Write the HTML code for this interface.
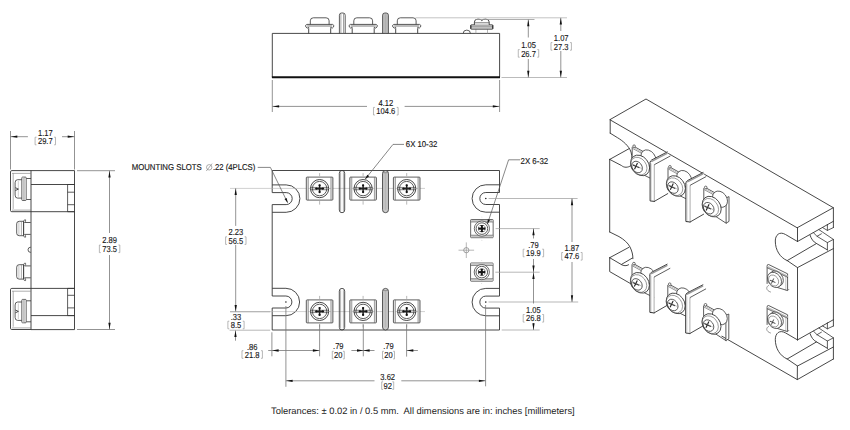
<!DOCTYPE html>
<html><head><meta charset="utf-8"><style>
html,body{margin:0;padding:0;background:#fff;}
svg{display:block;font-family:"Liberation Sans",sans-serif;text-rendering:geometricPrecision;}
</style></head><body>
<svg width="850" height="430" viewBox="0 0 850 430">
<rect width="850" height="430" fill="#fff"/>
<path d="M272.3,77.2 L272.3,33.4 L499.6,33.4 L499.6,77.2" stroke="#333" stroke-width="0.9" fill="none"/>
<line x1="271.90" y1="77.20" x2="500.00" y2="77.20" stroke="#111" stroke-width="2.0"/>
<line x1="308.70" y1="28.60" x2="308.70" y2="33.40" stroke="#333" stroke-width="0.9"/>
<line x1="330.70" y1="28.60" x2="330.70" y2="33.40" stroke="#333" stroke-width="0.9"/>
<rect x="307.20" y="24.6" width="25" height="2.4" fill="#bdbdbd"/>
<path d="M306.90,24.4 L332.50,24.4" stroke="#333" stroke-width="0.8" fill="none"/>
<path d="M308.70,28.6 L308.70,27.4 A1.8,1.8 0 1 1 306.90,24.4" stroke="#333" stroke-width="0.8" fill="none"/>
<path d="M330.70,28.6 L330.70,27.4 A1.8,1.8 0 1 0 332.50,24.4" stroke="#333" stroke-width="0.8" fill="none"/>
<path d="M310.30,24.4 L310.30,20.8 Q310.30,17.8 313.30,17.8 L326.10,17.8 Q329.10,17.8 329.10,20.8 L329.10,24.4" stroke="#333" stroke-width="0.8" fill="none"/>
<line x1="352.20" y1="28.60" x2="352.20" y2="33.40" stroke="#333" stroke-width="0.9"/>
<line x1="374.20" y1="28.60" x2="374.20" y2="33.40" stroke="#333" stroke-width="0.9"/>
<rect x="350.70" y="24.6" width="25" height="2.4" fill="#bdbdbd"/>
<path d="M350.40,24.4 L376.00,24.4" stroke="#333" stroke-width="0.8" fill="none"/>
<path d="M352.20,28.6 L352.20,27.4 A1.8,1.8 0 1 1 350.40,24.4" stroke="#333" stroke-width="0.8" fill="none"/>
<path d="M374.20,28.6 L374.20,27.4 A1.8,1.8 0 1 0 376.00,24.4" stroke="#333" stroke-width="0.8" fill="none"/>
<path d="M353.80,24.4 L353.80,20.8 Q353.80,17.8 356.80,17.8 L369.60,17.8 Q372.60,17.8 372.60,20.8 L372.60,24.4" stroke="#333" stroke-width="0.8" fill="none"/>
<line x1="395.70" y1="28.60" x2="395.70" y2="33.40" stroke="#333" stroke-width="0.9"/>
<line x1="417.70" y1="28.60" x2="417.70" y2="33.40" stroke="#333" stroke-width="0.9"/>
<rect x="394.20" y="24.6" width="25" height="2.4" fill="#bdbdbd"/>
<path d="M393.90,24.4 L419.50,24.4" stroke="#333" stroke-width="0.8" fill="none"/>
<path d="M395.70,28.6 L395.70,27.4 A1.8,1.8 0 1 1 393.90,24.4" stroke="#333" stroke-width="0.8" fill="none"/>
<path d="M417.70,28.6 L417.70,27.4 A1.8,1.8 0 1 0 419.50,24.4" stroke="#333" stroke-width="0.8" fill="none"/>
<path d="M397.30,24.4 L397.30,20.8 Q397.30,17.8 400.30,17.8 L413.10,17.8 Q416.10,17.8 416.10,20.8 L416.10,24.4" stroke="#333" stroke-width="0.8" fill="none"/>
<path d="M339.4,33.4 L339.4,15.2 Q339.4,13.0 341.59999999999997,13.0 L343.0,13.0 Q345.2,13.0 345.2,15.2 L345.2,33.4" stroke="#333" stroke-width="0.8" fill="none"/>
<line x1="340.90" y1="13.80" x2="340.90" y2="33.40" stroke="#666" stroke-width="0.6"/>
<line x1="343.50" y1="13.80" x2="343.50" y2="33.40" stroke="#666" stroke-width="0.6"/>
<path d="M382.6,33.4 L382.6,15.2 Q382.6,13.0 384.8,13.0 L386.2,13.0 Q388.4,13.0 388.4,15.2 L388.4,33.4 Z" fill="#c8c8c8" stroke="#333" stroke-width="0.8"/>
<line x1="384.10" y1="14.20" x2="384.10" y2="33.40" stroke="#999" stroke-width="0.5"/>
<line x1="385.50" y1="14.20" x2="385.50" y2="33.40" stroke="#999" stroke-width="0.5"/>
<line x1="386.90" y1="14.20" x2="386.90" y2="33.40" stroke="#999" stroke-width="0.5"/>
<path d="M463.2,33.4 A3.6,3.3 0 0 1 470.4,33.4" stroke="#333" stroke-width="0.8" fill="none"/>
<line x1="475.90" y1="29.20" x2="475.90" y2="33.40" stroke="#999" stroke-width="0.7"/>
<line x1="487.50" y1="29.20" x2="487.50" y2="33.40" stroke="#999" stroke-width="0.7"/>
<rect x="470.70" y="24.8" width="22.2" height="4.4" rx="0.7" fill="#d4d4d4" stroke="#333" stroke-width="0.8"/>
<line x1="470.80" y1="26.80" x2="492.80" y2="26.80" stroke="#666" stroke-width="0.6"/>
<line x1="470.90" y1="25.20" x2="470.90" y2="28.80" stroke="#222" stroke-width="0.9"/>
<line x1="492.70" y1="25.20" x2="492.70" y2="28.80" stroke="#222" stroke-width="0.9"/>
<rect x="474.60" y="22.6" width="14.4" height="2.2" fill="#e2e2e2"/>
<path d="M474.40,24.8 L474.40,22 Q474.40,19.1 478.00,19.1 Q480.90,19.1 481.80,20.6 Q482.70,19.1 485.60,19.1 Q489.20,19.1 489.20,22 L489.20,24.8" stroke="#333" stroke-width="0.9" fill="none"/>
<line x1="474.60" y1="22.60" x2="489.00" y2="22.60" stroke="#555" stroke-width="0.6"/>
<line x1="415.50" y1="17.80" x2="567.00" y2="17.80" stroke="#b4b4b4" stroke-width="0.8"/>
<line x1="475.00" y1="19.50" x2="534.50" y2="19.50" stroke="#999" stroke-width="0.8"/>
<line x1="501.50" y1="77.50" x2="567.00" y2="77.50" stroke="#aaa" stroke-width="0.8"/>
<line x1="528.30" y1="19.50" x2="528.30" y2="37.50" stroke="#777" stroke-width="0.8"/>
<line x1="528.30" y1="59.00" x2="528.30" y2="77.50" stroke="#777" stroke-width="0.8"/>
<path d="M528.30,19.70 L529.45,26.20 L527.15,26.20 Z" fill="#111"/>
<path d="M528.30,77.30 L527.15,70.80 L529.45,70.80 Z" fill="#111"/>
<text transform="translate(528.50,47.53) scale(0.87,1)" font-size="8.7" text-anchor="middle" fill="#151515" stroke="#151515" stroke-width="0.12">1.05</text>
<text transform="translate(528.50,56.53) scale(0.87,1)" font-size="8.7" text-anchor="middle" fill="#151515" stroke="#151515" stroke-width="0.12">26.7</text>
<path d="M519.68,49.60 L518.28,49.60 L518.28,57.20 L519.68,57.20" stroke="#9a9a9a" stroke-width="0.7" fill="none"/>
<path d="M537.32,49.60 L538.72,49.60 L538.72,57.20 L537.32,57.20" stroke="#9a9a9a" stroke-width="0.7" fill="none"/>
<line x1="560.80" y1="17.80" x2="560.80" y2="31.00" stroke="#777" stroke-width="0.8"/>
<line x1="560.80" y1="51.00" x2="560.80" y2="77.50" stroke="#777" stroke-width="0.8"/>
<path d="M560.80,18.00 L561.95,24.50 L559.65,24.50 Z" fill="#111"/>
<path d="M560.80,77.30 L559.65,70.80 L561.95,70.80 Z" fill="#111"/>
<text transform="translate(561.20,40.53) scale(0.87,1)" font-size="8.7" text-anchor="middle" fill="#151515" stroke="#151515" stroke-width="0.12">1.07</text>
<text transform="translate(561.20,49.53) scale(0.87,1)" font-size="8.7" text-anchor="middle" fill="#151515" stroke="#151515" stroke-width="0.12">27.3</text>
<path d="M552.38,42.60 L550.98,42.60 L550.98,50.20 L552.38,50.20" stroke="#9a9a9a" stroke-width="0.7" fill="none"/>
<path d="M570.02,42.60 L571.42,42.60 L571.42,50.20 L570.02,50.20" stroke="#9a9a9a" stroke-width="0.7" fill="none"/>
<line x1="272.30" y1="80.00" x2="272.30" y2="112.00" stroke="#777" stroke-width="0.8"/>
<line x1="499.60" y1="80.00" x2="499.60" y2="112.00" stroke="#777" stroke-width="0.8"/>
<line x1="272.30" y1="106.40" x2="367.00" y2="106.40" stroke="#777" stroke-width="0.8"/>
<line x1="404.60" y1="106.40" x2="499.60" y2="106.40" stroke="#777" stroke-width="0.8"/>
<path d="M272.60,106.40 L279.10,105.25 L279.10,107.55 Z" fill="#111"/>
<path d="M499.30,106.40 L492.80,107.55 L492.80,105.25 Z" fill="#111"/>
<text transform="translate(385.80,106.13) scale(0.87,1)" font-size="8.7" text-anchor="middle" fill="#151515" stroke="#151515" stroke-width="0.12">4.12</text>
<text transform="translate(385.80,114.33) scale(0.87,1)" font-size="8.7" text-anchor="middle" fill="#151515" stroke="#151515" stroke-width="0.12">104.6</text>
<path d="M374.88,107.40 L373.48,107.40 L373.48,115.00 L374.88,115.00" stroke="#9a9a9a" stroke-width="0.7" fill="none"/>
<path d="M396.72,107.40 L398.12,107.40 L398.12,115.00 L396.72,115.00" stroke="#9a9a9a" stroke-width="0.7" fill="none"/>
<line x1="10.50" y1="131.00" x2="10.50" y2="169.50" stroke="#777" stroke-width="0.8"/>
<line x1="74.50" y1="131.00" x2="74.50" y2="169.50" stroke="#777" stroke-width="0.8"/>
<line x1="10.50" y1="136.70" x2="27.90" y2="136.70" stroke="#777" stroke-width="0.8"/>
<line x1="62.00" y1="136.70" x2="74.50" y2="136.70" stroke="#777" stroke-width="0.8"/>
<path d="M10.80,136.70 L17.30,135.55 L17.30,137.85 Z" fill="#111"/>
<path d="M74.20,136.70 L67.70,137.85 L67.70,135.55 Z" fill="#111"/>
<text transform="translate(45.30,135.53) scale(0.87,1)" font-size="8.7" text-anchor="middle" fill="#151515" stroke="#151515" stroke-width="0.12">1.17</text>
<text transform="translate(45.30,144.13) scale(0.87,1)" font-size="8.7" text-anchor="middle" fill="#151515" stroke="#151515" stroke-width="0.12">29.7</text>
<path d="M36.48,137.20 L35.08,137.20 L35.08,144.80 L36.48,144.80" stroke="#9a9a9a" stroke-width="0.7" fill="none"/>
<path d="M54.12,137.20 L55.52,137.20 L55.52,144.80 L54.12,144.80" stroke="#9a9a9a" stroke-width="0.7" fill="none"/>
<path d="M31,170.6 L74.5,170.6 L74.5,329.6 L31,329.6 Z" stroke="#333" stroke-width="0.9" fill="none"/>
<line x1="31.00" y1="184.50" x2="74.50" y2="184.50" stroke="#333" stroke-width="0.9"/>
<line x1="31.00" y1="315.60" x2="74.50" y2="315.60" stroke="#333" stroke-width="0.9"/>
<line x1="31.00" y1="211.70" x2="74.50" y2="211.70" stroke="#333" stroke-width="0.9"/>
<line x1="31.00" y1="288.40" x2="74.50" y2="288.40" stroke="#333" stroke-width="0.9"/>
<path d="M74.5,184.5 L67.6,184.5 L67.6,211.7 L74.5,211.7" stroke="#333" stroke-width="0.8" fill="none"/>
<line x1="67.60" y1="192.20" x2="74.50" y2="192.20" stroke="#333" stroke-width="0.8"/>
<line x1="67.60" y1="204.70" x2="74.50" y2="204.70" stroke="#333" stroke-width="0.8"/>
<path d="M74.5,288.4 L67.6,288.4 L67.6,315.6 L74.5,315.6" stroke="#333" stroke-width="0.8" fill="none"/>
<line x1="67.60" y1="295.30" x2="74.50" y2="295.30" stroke="#333" stroke-width="0.8"/>
<line x1="67.60" y1="307.90" x2="74.50" y2="307.90" stroke="#333" stroke-width="0.8"/>
<path d="M31,170.6 L11.8,170.6 Q10.5,170.6 10.5,171.9 L10.5,210.39999999999998 Q10.5,211.7 11.8,211.7 L31,211.7" stroke="#333" stroke-width="0.9" fill="none"/>
<line x1="13.20" y1="173.40" x2="13.20" y2="208.90" stroke="#777" stroke-width="0.6"/>
<line x1="12.00" y1="173.40" x2="31.00" y2="173.40" stroke="#777" stroke-width="0.6"/>
<line x1="12.00" y1="210.10" x2="31.00" y2="210.10" stroke="#777" stroke-width="0.6"/>
<path d="M31,288.4 L11.8,288.4 Q10.5,288.4 10.5,289.7 L10.5,328.2 Q10.5,329.5 11.8,329.5 L31,329.5" stroke="#333" stroke-width="0.9" fill="none"/>
<line x1="13.20" y1="291.20" x2="13.20" y2="326.70" stroke="#777" stroke-width="0.6"/>
<line x1="12.00" y1="291.20" x2="31.00" y2="291.20" stroke="#777" stroke-width="0.6"/>
<line x1="12.00" y1="327.90" x2="31.00" y2="327.90" stroke="#777" stroke-width="0.6"/>
<line x1="26.20" y1="178.50" x2="31.00" y2="178.50" stroke="#333" stroke-width="0.8"/>
<line x1="26.20" y1="199.50" x2="31.00" y2="199.50" stroke="#333" stroke-width="0.8"/>
<rect x="21.8" y="177.10" width="4.4" height="23.4" rx="0.8" fill="#fff" stroke="#333" stroke-width="0.75"/>
<rect x="22.3" y="177.60" width="1.6" height="22.4" fill="#c8c8c8"/>
<line x1="24.30" y1="177.30" x2="24.30" y2="200.30" stroke="#777" stroke-width="0.5"/>
<path d="M21.8,179.70 L17.6,179.70 Q15.1,179.70 15.1,182.70 L15.1,195.10 Q15.1,198.10 17.6,198.10 L21.8,198.10" stroke="#333" stroke-width="0.8" fill="none"/>
<line x1="18.30" y1="181.10" x2="18.30" y2="196.70" stroke="#999" stroke-width="0.5"/>
<path d="M15.4,187.70 L18.4,189.10 L15.4,190.50" stroke="#222" stroke-width="0.8" fill="none"/>
<line x1="26.20" y1="300.80" x2="31.00" y2="300.80" stroke="#333" stroke-width="0.8"/>
<line x1="26.20" y1="321.80" x2="31.00" y2="321.80" stroke="#333" stroke-width="0.8"/>
<rect x="21.8" y="299.40" width="4.4" height="23.4" rx="0.8" fill="#fff" stroke="#333" stroke-width="0.75"/>
<rect x="22.3" y="299.90" width="1.6" height="22.4" fill="#c8c8c8"/>
<line x1="24.30" y1="299.60" x2="24.30" y2="322.60" stroke="#777" stroke-width="0.5"/>
<path d="M21.8,302.00 L17.6,302.00 Q15.1,302.00 15.1,305.00 L15.1,317.40 Q15.1,320.40 17.6,320.40 L21.8,320.40" stroke="#333" stroke-width="0.8" fill="none"/>
<line x1="18.30" y1="303.40" x2="18.30" y2="319.00" stroke="#999" stroke-width="0.5"/>
<path d="M15.4,310.00 L18.4,311.40 L15.4,312.80" stroke="#222" stroke-width="0.8" fill="none"/>
<line x1="24.60" y1="222.50" x2="30.70" y2="222.50" stroke="#333" stroke-width="0.8"/>
<line x1="24.60" y1="234.40" x2="30.70" y2="234.40" stroke="#333" stroke-width="0.8"/>
<path d="M23.6,221.30 L19.2,221.30 Q16.7,221.30 16.7,223.80 L16.7,233.20 Q16.7,235.70 19.2,235.70 L23.6,235.70 Z" stroke="#333" stroke-width="0.8" fill="none"/>
<line x1="18.90" y1="222.10" x2="18.90" y2="234.90" stroke="#888" stroke-width="0.5"/>
<line x1="21.40" y1="221.60" x2="21.40" y2="235.40" stroke="#777" stroke-width="0.6"/>
<line x1="23.60" y1="221.30" x2="23.60" y2="235.70" stroke="#333" stroke-width="0.7"/>
<path d="M23.6,221.30 Q24.2,219.20 25.6,219.80 Q26,221.40 24.6,222.50" stroke="#333" stroke-width="0.7" fill="none"/>
<path d="M23.6,235.70 Q24.2,237.80 25.6,237.20 Q26,235.60 24.6,234.40" stroke="#333" stroke-width="0.7" fill="none"/>
<line x1="24.60" y1="265.90" x2="30.70" y2="265.90" stroke="#333" stroke-width="0.8"/>
<line x1="24.60" y1="277.80" x2="30.70" y2="277.80" stroke="#333" stroke-width="0.8"/>
<path d="M23.6,264.70 L19.2,264.70 Q16.7,264.70 16.7,267.20 L16.7,276.60 Q16.7,279.10 19.2,279.10 L23.6,279.10 Z" stroke="#333" stroke-width="0.8" fill="none"/>
<line x1="18.90" y1="265.50" x2="18.90" y2="278.30" stroke="#888" stroke-width="0.5"/>
<line x1="21.40" y1="265.00" x2="21.40" y2="278.80" stroke="#777" stroke-width="0.6"/>
<line x1="23.60" y1="264.70" x2="23.60" y2="279.10" stroke="#333" stroke-width="0.7"/>
<path d="M23.6,264.70 Q24.2,262.60 25.6,263.20 Q26,264.80 24.6,265.90" stroke="#333" stroke-width="0.7" fill="none"/>
<path d="M23.6,279.10 Q24.2,281.20 25.6,280.60 Q26,279.00 24.6,277.80" stroke="#333" stroke-width="0.7" fill="none"/>
<path d="M30.8,247.2 A2.8,2.6 0 0 0 30.8,252.4" stroke="#333" stroke-width="0.8" fill="none"/>
<line x1="77.00" y1="170.70" x2="115.00" y2="170.70" stroke="#777" stroke-width="0.8"/>
<line x1="77.00" y1="329.50" x2="115.00" y2="329.50" stroke="#777" stroke-width="0.8"/>
<line x1="109.50" y1="170.70" x2="109.50" y2="233.00" stroke="#777" stroke-width="0.8"/>
<line x1="109.50" y1="255.00" x2="109.50" y2="329.50" stroke="#777" stroke-width="0.8"/>
<path d="M109.50,171.00 L110.65,177.50 L108.35,177.50 Z" fill="#111"/>
<path d="M109.50,329.20 L108.35,322.70 L110.65,322.70 Z" fill="#111"/>
<text transform="translate(109.60,242.63) scale(0.87,1)" font-size="8.7" text-anchor="middle" fill="#151515" stroke="#151515" stroke-width="0.12">2.89</text>
<text transform="translate(109.60,251.93) scale(0.87,1)" font-size="8.7" text-anchor="middle" fill="#151515" stroke="#151515" stroke-width="0.12">73.5</text>
<path d="M100.78,245.00 L99.38,245.00 L99.38,252.60 L100.78,252.60" stroke="#9a9a9a" stroke-width="0.7" fill="none"/>
<path d="M118.42,245.00 L119.82,245.00 L119.82,252.60 L118.42,252.60" stroke="#9a9a9a" stroke-width="0.7" fill="none"/>
<line x1="272.20" y1="170.50" x2="499.50" y2="170.50" stroke="#333" stroke-width="0.9"/>
<line x1="272.20" y1="330.00" x2="499.50" y2="330.00" stroke="#333" stroke-width="0.9"/>
<path d="M272.2,184.90 L286.20,184.90 A13.7,13.7 0 0 1 286.20,212.30 L272.2,212.30" stroke="#333" stroke-width="0.9" fill="none"/>
<path d="M272.2,192.60 L286.20,192.60 A6.0,6.0 0 0 1 286.20,204.60 L272.2,204.60" stroke="#333" stroke-width="0.9" fill="none"/>
<path d="M272.2,288.30 L285.90,288.30 A13.7,13.7 0 0 1 285.90,315.70 L272.2,315.70" stroke="#333" stroke-width="0.9" fill="none"/>
<path d="M272.2,296.00 L285.90,296.00 A6.0,6.0 0 0 1 285.90,308.00 L272.2,308.00" stroke="#333" stroke-width="0.9" fill="none"/>
<path d="M499.5,184.80 L485.80,184.80 A13.7,13.7 0 0 0 485.80,212.20 L499.5,212.20" stroke="#333" stroke-width="0.9" fill="none"/>
<path d="M499.5,192.50 L485.80,192.50 A6.0,6.0 0 0 0 485.80,204.50 L499.5,204.50" stroke="#333" stroke-width="0.9" fill="none"/>
<path d="M499.5,288.40 L485.80,288.40 A13.7,13.7 0 0 0 485.80,315.80 L499.5,315.80" stroke="#333" stroke-width="0.9" fill="none"/>
<path d="M499.5,296.10 L485.80,296.10 A6.0,6.0 0 0 0 485.80,308.10 L499.5,308.10" stroke="#333" stroke-width="0.9" fill="none"/>
<line x1="272.20" y1="170.50" x2="272.20" y2="192.60" stroke="#333" stroke-width="0.9"/>
<line x1="272.20" y1="204.60" x2="272.20" y2="296.00" stroke="#333" stroke-width="0.9"/>
<line x1="272.20" y1="308.00" x2="272.20" y2="330.00" stroke="#333" stroke-width="0.9"/>
<line x1="499.50" y1="170.50" x2="499.50" y2="192.50" stroke="#333" stroke-width="0.9"/>
<line x1="499.50" y1="204.50" x2="499.50" y2="296.10" stroke="#333" stroke-width="0.9"/>
<line x1="499.50" y1="308.10" x2="499.50" y2="330.00" stroke="#333" stroke-width="0.9"/>
<circle cx="485.8" cy="198.5" r="0.8" fill="#222"/>
<circle cx="485.8" cy="302.1" r="0.8" fill="#222"/>
<circle cx="285.9" cy="302.0" r="0.8" fill="#222"/>
<line x1="230.00" y1="188.40" x2="425.00" y2="188.40" stroke="#b0b0b0" stroke-width="0.6"/>
<line x1="230.00" y1="311.60" x2="425.00" y2="311.60" stroke="#b0b0b0" stroke-width="0.6"/>
<rect x="306.30" y="177.10" width="2.0" height="23.00" fill="#e0e0e0"/>
<rect x="330.90" y="177.10" width="2.0" height="23.00" fill="#e0e0e0"/>
<rect x="306.30" y="177.10" width="26.60" height="23.00" rx="0.8" fill="none" stroke="#444" stroke-width="0.85"/>
<line x1="308.30" y1="177.10" x2="308.30" y2="200.10" stroke="#666" stroke-width="0.6"/>
<line x1="330.90" y1="177.10" x2="330.90" y2="200.10" stroke="#666" stroke-width="0.6"/>
<rect x="310.20" y="187.45" width="18.80" height="2.3" fill="#d0d0d0"/>
<line x1="310.20" y1="187.45" x2="329.00" y2="187.45" stroke="#555" stroke-width="0.6"/>
<line x1="310.20" y1="189.75" x2="329.00" y2="189.75" stroke="#555" stroke-width="0.6"/>
<circle cx="319.60" cy="188.60" r="9.1" fill="none" stroke="#333" stroke-width="0.9"/>
<circle cx="319.60" cy="188.60" r="7.2" fill="none" stroke="#333" stroke-width="0.8"/>
<line x1="315.70" y1="188.60" x2="323.50" y2="188.60" stroke="#222" stroke-width="1.5"/>
<line x1="319.60" y1="184.70" x2="319.60" y2="192.50" stroke="#222" stroke-width="1.5"/>
<circle cx="322.90" cy="188.60" r="1.15" fill="#111"/>
<circle cx="316.30" cy="188.60" r="1.15" fill="#111"/>
<circle cx="319.60" cy="192.10" r="1.15" fill="#111"/>
<circle cx="319.60" cy="185.30" r="1.15" fill="#111"/>
<line x1="319.60" y1="173.10" x2="319.60" y2="176.10" stroke="#888" stroke-width="0.6"/>
<line x1="319.60" y1="201.10" x2="319.60" y2="204.60" stroke="#888" stroke-width="0.6"/>
<rect x="306.30" y="299.90" width="2.0" height="23.00" fill="#e0e0e0"/>
<rect x="330.90" y="299.90" width="2.0" height="23.00" fill="#e0e0e0"/>
<rect x="306.30" y="299.90" width="26.60" height="23.00" rx="0.8" fill="none" stroke="#444" stroke-width="0.85"/>
<line x1="308.30" y1="299.90" x2="308.30" y2="322.90" stroke="#666" stroke-width="0.6"/>
<line x1="330.90" y1="299.90" x2="330.90" y2="322.90" stroke="#666" stroke-width="0.6"/>
<rect x="310.20" y="310.25" width="18.80" height="2.3" fill="#d0d0d0"/>
<line x1="310.20" y1="310.25" x2="329.00" y2="310.25" stroke="#555" stroke-width="0.6"/>
<line x1="310.20" y1="312.55" x2="329.00" y2="312.55" stroke="#555" stroke-width="0.6"/>
<circle cx="319.60" cy="311.40" r="9.1" fill="none" stroke="#333" stroke-width="0.9"/>
<circle cx="319.60" cy="311.40" r="7.2" fill="none" stroke="#333" stroke-width="0.8"/>
<line x1="315.70" y1="311.40" x2="323.50" y2="311.40" stroke="#222" stroke-width="1.5"/>
<line x1="319.60" y1="307.50" x2="319.60" y2="315.30" stroke="#222" stroke-width="1.5"/>
<circle cx="322.90" cy="311.40" r="1.15" fill="#111"/>
<circle cx="316.30" cy="311.40" r="1.15" fill="#111"/>
<circle cx="319.60" cy="314.90" r="1.15" fill="#111"/>
<circle cx="319.60" cy="308.10" r="1.15" fill="#111"/>
<line x1="319.60" y1="295.90" x2="319.60" y2="298.90" stroke="#888" stroke-width="0.6"/>
<line x1="319.60" y1="323.90" x2="319.60" y2="327.40" stroke="#888" stroke-width="0.6"/>
<rect x="349.80" y="177.10" width="2.0" height="23.00" fill="#e0e0e0"/>
<rect x="374.40" y="177.10" width="2.0" height="23.00" fill="#e0e0e0"/>
<rect x="349.80" y="177.10" width="26.60" height="23.00" rx="0.8" fill="none" stroke="#444" stroke-width="0.85"/>
<line x1="351.80" y1="177.10" x2="351.80" y2="200.10" stroke="#666" stroke-width="0.6"/>
<line x1="374.40" y1="177.10" x2="374.40" y2="200.10" stroke="#666" stroke-width="0.6"/>
<rect x="353.70" y="187.45" width="18.80" height="2.3" fill="#d0d0d0"/>
<line x1="353.70" y1="187.45" x2="372.50" y2="187.45" stroke="#555" stroke-width="0.6"/>
<line x1="353.70" y1="189.75" x2="372.50" y2="189.75" stroke="#555" stroke-width="0.6"/>
<circle cx="363.10" cy="188.60" r="9.1" fill="none" stroke="#333" stroke-width="0.9"/>
<circle cx="363.10" cy="188.60" r="7.2" fill="none" stroke="#333" stroke-width="0.8"/>
<line x1="359.20" y1="188.60" x2="367.00" y2="188.60" stroke="#222" stroke-width="1.5"/>
<line x1="363.10" y1="184.70" x2="363.10" y2="192.50" stroke="#222" stroke-width="1.5"/>
<circle cx="366.40" cy="188.60" r="1.15" fill="#111"/>
<circle cx="359.80" cy="188.60" r="1.15" fill="#111"/>
<circle cx="363.10" cy="192.10" r="1.15" fill="#111"/>
<circle cx="363.10" cy="185.30" r="1.15" fill="#111"/>
<line x1="363.10" y1="173.10" x2="363.10" y2="176.10" stroke="#888" stroke-width="0.6"/>
<line x1="363.10" y1="201.10" x2="363.10" y2="204.60" stroke="#888" stroke-width="0.6"/>
<rect x="349.80" y="299.90" width="2.0" height="23.00" fill="#e0e0e0"/>
<rect x="374.40" y="299.90" width="2.0" height="23.00" fill="#e0e0e0"/>
<rect x="349.80" y="299.90" width="26.60" height="23.00" rx="0.8" fill="none" stroke="#444" stroke-width="0.85"/>
<line x1="351.80" y1="299.90" x2="351.80" y2="322.90" stroke="#666" stroke-width="0.6"/>
<line x1="374.40" y1="299.90" x2="374.40" y2="322.90" stroke="#666" stroke-width="0.6"/>
<rect x="353.70" y="310.25" width="18.80" height="2.3" fill="#d0d0d0"/>
<line x1="353.70" y1="310.25" x2="372.50" y2="310.25" stroke="#555" stroke-width="0.6"/>
<line x1="353.70" y1="312.55" x2="372.50" y2="312.55" stroke="#555" stroke-width="0.6"/>
<circle cx="363.10" cy="311.40" r="9.1" fill="none" stroke="#333" stroke-width="0.9"/>
<circle cx="363.10" cy="311.40" r="7.2" fill="none" stroke="#333" stroke-width="0.8"/>
<line x1="359.20" y1="311.40" x2="367.00" y2="311.40" stroke="#222" stroke-width="1.5"/>
<line x1="363.10" y1="307.50" x2="363.10" y2="315.30" stroke="#222" stroke-width="1.5"/>
<circle cx="366.40" cy="311.40" r="1.15" fill="#111"/>
<circle cx="359.80" cy="311.40" r="1.15" fill="#111"/>
<circle cx="363.10" cy="314.90" r="1.15" fill="#111"/>
<circle cx="363.10" cy="308.10" r="1.15" fill="#111"/>
<line x1="363.10" y1="295.90" x2="363.10" y2="298.90" stroke="#888" stroke-width="0.6"/>
<line x1="363.10" y1="323.90" x2="363.10" y2="327.40" stroke="#888" stroke-width="0.6"/>
<rect x="393.40" y="177.10" width="2.0" height="23.00" fill="#e0e0e0"/>
<rect x="418.00" y="177.10" width="2.0" height="23.00" fill="#e0e0e0"/>
<rect x="393.40" y="177.10" width="26.60" height="23.00" rx="0.8" fill="none" stroke="#444" stroke-width="0.85"/>
<line x1="395.40" y1="177.10" x2="395.40" y2="200.10" stroke="#666" stroke-width="0.6"/>
<line x1="418.00" y1="177.10" x2="418.00" y2="200.10" stroke="#666" stroke-width="0.6"/>
<rect x="397.30" y="187.45" width="18.80" height="2.3" fill="#d0d0d0"/>
<line x1="397.30" y1="187.45" x2="416.10" y2="187.45" stroke="#555" stroke-width="0.6"/>
<line x1="397.30" y1="189.75" x2="416.10" y2="189.75" stroke="#555" stroke-width="0.6"/>
<circle cx="406.70" cy="188.60" r="9.1" fill="none" stroke="#333" stroke-width="0.9"/>
<circle cx="406.70" cy="188.60" r="7.2" fill="none" stroke="#333" stroke-width="0.8"/>
<line x1="402.80" y1="188.60" x2="410.60" y2="188.60" stroke="#222" stroke-width="1.5"/>
<line x1="406.70" y1="184.70" x2="406.70" y2="192.50" stroke="#222" stroke-width="1.5"/>
<circle cx="410.00" cy="188.60" r="1.15" fill="#111"/>
<circle cx="403.40" cy="188.60" r="1.15" fill="#111"/>
<circle cx="406.70" cy="192.10" r="1.15" fill="#111"/>
<circle cx="406.70" cy="185.30" r="1.15" fill="#111"/>
<line x1="406.70" y1="173.10" x2="406.70" y2="176.10" stroke="#888" stroke-width="0.6"/>
<line x1="406.70" y1="201.10" x2="406.70" y2="204.60" stroke="#888" stroke-width="0.6"/>
<rect x="393.40" y="299.90" width="2.0" height="23.00" fill="#e0e0e0"/>
<rect x="418.00" y="299.90" width="2.0" height="23.00" fill="#e0e0e0"/>
<rect x="393.40" y="299.90" width="26.60" height="23.00" rx="0.8" fill="none" stroke="#444" stroke-width="0.85"/>
<line x1="395.40" y1="299.90" x2="395.40" y2="322.90" stroke="#666" stroke-width="0.6"/>
<line x1="418.00" y1="299.90" x2="418.00" y2="322.90" stroke="#666" stroke-width="0.6"/>
<rect x="397.30" y="310.25" width="18.80" height="2.3" fill="#d0d0d0"/>
<line x1="397.30" y1="310.25" x2="416.10" y2="310.25" stroke="#555" stroke-width="0.6"/>
<line x1="397.30" y1="312.55" x2="416.10" y2="312.55" stroke="#555" stroke-width="0.6"/>
<circle cx="406.70" cy="311.40" r="9.1" fill="none" stroke="#333" stroke-width="0.9"/>
<circle cx="406.70" cy="311.40" r="7.2" fill="none" stroke="#333" stroke-width="0.8"/>
<line x1="402.80" y1="311.40" x2="410.60" y2="311.40" stroke="#222" stroke-width="1.5"/>
<line x1="406.70" y1="307.50" x2="406.70" y2="315.30" stroke="#222" stroke-width="1.5"/>
<circle cx="410.00" cy="311.40" r="1.15" fill="#111"/>
<circle cx="403.40" cy="311.40" r="1.15" fill="#111"/>
<circle cx="406.70" cy="314.90" r="1.15" fill="#111"/>
<circle cx="406.70" cy="308.10" r="1.15" fill="#111"/>
<line x1="406.70" y1="295.90" x2="406.70" y2="298.90" stroke="#888" stroke-width="0.6"/>
<line x1="406.70" y1="323.90" x2="406.70" y2="327.40" stroke="#888" stroke-width="0.6"/>
<rect x="470.65" y="219.50" width="22.50" height="18.20" rx="0.6" fill="none" stroke="#444" stroke-width="0.8"/>
<rect x="471.15" y="220.00" width="21.50" height="2.0" fill="#c8c8c8"/>
<rect x="471.15" y="235.20" width="21.50" height="2.0" fill="#c8c8c8"/>
<line x1="470.65" y1="222.00" x2="493.15" y2="222.00" stroke="#555" stroke-width="0.6"/>
<line x1="470.65" y1="235.20" x2="493.15" y2="235.20" stroke="#555" stroke-width="0.6"/>
<circle cx="481.90" cy="228.60" r="7.6" fill="#fff" stroke="#444" stroke-width="0.8"/>
<circle cx="481.90" cy="228.60" r="5.8" fill="none" stroke="#333" stroke-width="0.8"/>
<circle cx="481.90" cy="228.60" r="3.7" fill="#151515"/>
<circle cx="483.80" cy="230.50" r="1.05" fill="#fff"/>
<circle cx="480.00" cy="230.50" r="1.05" fill="#fff"/>
<circle cx="483.80" cy="226.70" r="1.05" fill="#fff"/>
<circle cx="480.00" cy="226.70" r="1.05" fill="#fff"/>
<circle cx="481.90" cy="217.00" r="0.35" fill="#999"/>
<circle cx="481.90" cy="240.20" r="0.35" fill="#999"/>
<rect x="470.55" y="263.00" width="22.50" height="18.20" rx="0.6" fill="none" stroke="#444" stroke-width="0.8"/>
<rect x="471.05" y="263.50" width="21.50" height="2.0" fill="#c8c8c8"/>
<rect x="471.05" y="278.70" width="21.50" height="2.0" fill="#c8c8c8"/>
<line x1="470.55" y1="265.50" x2="493.05" y2="265.50" stroke="#555" stroke-width="0.6"/>
<line x1="470.55" y1="278.70" x2="493.05" y2="278.70" stroke="#555" stroke-width="0.6"/>
<circle cx="481.80" cy="272.10" r="7.6" fill="#fff" stroke="#444" stroke-width="0.8"/>
<circle cx="481.80" cy="272.10" r="5.8" fill="none" stroke="#333" stroke-width="0.8"/>
<circle cx="481.80" cy="272.10" r="3.7" fill="#151515"/>
<circle cx="483.70" cy="274.00" r="1.05" fill="#fff"/>
<circle cx="479.90" cy="274.00" r="1.05" fill="#fff"/>
<circle cx="483.70" cy="270.20" r="1.05" fill="#fff"/>
<circle cx="479.90" cy="270.20" r="1.05" fill="#fff"/>
<circle cx="481.80" cy="260.50" r="0.35" fill="#999"/>
<circle cx="481.80" cy="283.70" r="0.35" fill="#999"/>
<path d="M339.3,173.2 A2.6999999999999886,2.6999999999999886 0 0 1 344.7,173.2 L344.7,210.0 A2.6999999999999886,2.6999999999999886 0 0 1 339.3,210.0 Z" fill="none" stroke="#333" stroke-width="0.85"/>
<line x1="340.60" y1="172.30" x2="340.60" y2="210.90" stroke="#666" stroke-width="0.5"/>
<line x1="343.40" y1="172.30" x2="343.40" y2="210.90" stroke="#666" stroke-width="0.5"/>
<path d="M382.5,173.5 A3.0,3.0 0 0 1 388.5,173.5 L388.5,209.7 A3.0,3.0 0 0 1 382.5,209.7 Z" fill="#cdcdcd" stroke="#333" stroke-width="0.8"/>
<line x1="384.00" y1="173.00" x2="384.00" y2="210.20" stroke="#a0a0a0" stroke-width="0.5"/>
<line x1="385.50" y1="173.00" x2="385.50" y2="210.20" stroke="#a0a0a0" stroke-width="0.5"/>
<line x1="387.00" y1="173.00" x2="387.00" y2="210.20" stroke="#a0a0a0" stroke-width="0.5"/>
<line x1="383.10" y1="172.70" x2="387.90" y2="172.70" stroke="#666" stroke-width="0.6"/>
<path d="M339.3,291.09999999999997 A2.6999999999999886,2.6999999999999886 0 0 1 344.7,291.09999999999997 L344.7,327.3 A2.6999999999999886,2.6999999999999886 0 0 1 339.3,327.3 Z" fill="none" stroke="#333" stroke-width="0.85"/>
<line x1="340.60" y1="290.20" x2="340.60" y2="328.20" stroke="#666" stroke-width="0.5"/>
<line x1="343.40" y1="290.20" x2="343.40" y2="328.20" stroke="#666" stroke-width="0.5"/>
<path d="M382.5,291.4 A3.0,3.0 0 0 1 388.5,291.4 L388.5,327.0 A3.0,3.0 0 0 1 382.5,327.0 Z" fill="#cdcdcd" stroke="#333" stroke-width="0.8"/>
<line x1="384.00" y1="290.90" x2="384.00" y2="327.50" stroke="#a0a0a0" stroke-width="0.5"/>
<line x1="385.50" y1="290.90" x2="385.50" y2="327.50" stroke="#a0a0a0" stroke-width="0.5"/>
<line x1="387.00" y1="290.90" x2="387.00" y2="327.50" stroke="#a0a0a0" stroke-width="0.5"/>
<line x1="383.10" y1="290.60" x2="387.90" y2="290.60" stroke="#666" stroke-width="0.6"/>
<circle cx="466.3" cy="250.2" r="2.6" fill="none" stroke="#666" stroke-width="0.6"/>
<line x1="458.50" y1="250.20" x2="474.10" y2="250.20" stroke="#888" stroke-width="0.6"/>
<line x1="466.30" y1="242.40" x2="466.30" y2="258.00" stroke="#888" stroke-width="0.6"/>
<line x1="257.70" y1="167.40" x2="270.40" y2="167.40" stroke="#555" stroke-width="0.7"/>
<line x1="270.40" y1="167.40" x2="287.60" y2="202.60" stroke="#555" stroke-width="0.7"/>
<path d="M287.80,203.00 L284.53,199.03 L286.68,197.98 Z" fill="#111"/>
<text transform="translate(131.70,170.40) scale(0.915,1)" font-size="8.5" text-anchor="start" fill="#151515" stroke="#151515" stroke-width="0.15">MOUNTING SLOTS</text>
<circle cx="209.2" cy="167.3" r="2.7" fill="none" stroke="#888" stroke-width="0.7"/>
<line x1="206.30" y1="171.00" x2="212.10" y2="163.60" stroke="#888" stroke-width="0.7"/>
<text transform="translate(212.90,170.40) scale(0.905,1)" font-size="8.5" text-anchor="start" fill="#151515" stroke="#151515" stroke-width="0.15">.22 (4PLCS)</text>
<line x1="393.00" y1="144.40" x2="404.00" y2="144.40" stroke="#555" stroke-width="0.7"/>
<line x1="393.00" y1="144.40" x2="365.40" y2="178.90" stroke="#555" stroke-width="0.7"/>
<path d="M365.10,179.30 L367.28,174.65 L369.16,176.14 Z" fill="#111"/>
<text transform="translate(405.80,147.40) scale(0.915,1)" font-size="8.5" text-anchor="start" fill="#151515" stroke="#151515" stroke-width="0.15">6X 10-32</text>
<line x1="508.60" y1="159.80" x2="520.00" y2="159.80" stroke="#555" stroke-width="0.7"/>
<line x1="508.60" y1="159.80" x2="487.50" y2="223.80" stroke="#555" stroke-width="0.7"/>
<path d="M487.30,224.40 L487.82,219.31 L489.91,220.00 Z" fill="#111"/>
<text transform="translate(520.50,163.50) scale(0.93,1)" font-size="8.5" text-anchor="start" fill="#151515" stroke="#151515" stroke-width="0.15">2X 6-32</text>
<line x1="230.00" y1="311.80" x2="270.20" y2="311.80" stroke="#999" stroke-width="0.7"/>
<line x1="229.60" y1="330.20" x2="270.20" y2="330.20" stroke="#999" stroke-width="0.7"/>
<line x1="235.70" y1="188.30" x2="235.70" y2="225.90" stroke="#777" stroke-width="0.8"/>
<line x1="235.70" y1="245.00" x2="235.70" y2="311.60" stroke="#777" stroke-width="0.8"/>
<path d="M235.70,188.60 L236.85,195.10 L234.55,195.10 Z" fill="#111"/>
<path d="M235.70,311.50 L234.55,305.00 L236.85,305.00 Z" fill="#111"/>
<text transform="translate(235.80,235.13) scale(0.87,1)" font-size="8.7" text-anchor="middle" fill="#151515" stroke="#151515" stroke-width="0.12">2.23</text>
<text transform="translate(235.80,243.73) scale(0.87,1)" font-size="8.7" text-anchor="middle" fill="#151515" stroke="#151515" stroke-width="0.12">56.5</text>
<path d="M226.98,236.80 L225.58,236.80 L225.58,244.40 L226.98,244.40" stroke="#9a9a9a" stroke-width="0.7" fill="none"/>
<path d="M244.62,236.80 L246.02,236.80 L246.02,244.40 L244.62,244.40" stroke="#9a9a9a" stroke-width="0.7" fill="none"/>
<line x1="235.50" y1="330.50" x2="235.50" y2="340.70" stroke="#777" stroke-width="0.8"/>
<path d="M235.50,330.40 L236.65,336.90 L234.35,336.90 Z" fill="#111"/>
<text transform="translate(236.00,319.73) scale(0.87,1)" font-size="8.7" text-anchor="middle" fill="#151515" stroke="#151515" stroke-width="0.12">.33</text>
<text transform="translate(236.00,328.13) scale(0.87,1)" font-size="8.7" text-anchor="middle" fill="#151515" stroke="#151515" stroke-width="0.12">8.5</text>
<path d="M229.29,321.20 L227.89,321.20 L227.89,328.80 L229.29,328.80" stroke="#9a9a9a" stroke-width="0.7" fill="none"/>
<path d="M242.71,321.20 L244.11,321.20 L244.11,328.80 L242.71,328.80" stroke="#9a9a9a" stroke-width="0.7" fill="none"/>
<text transform="translate(252.20,349.63) scale(0.87,1)" font-size="8.7" text-anchor="middle" fill="#151515" stroke="#151515" stroke-width="0.12">.86</text>
<text transform="translate(252.20,357.63) scale(0.87,1)" font-size="8.7" text-anchor="middle" fill="#151515" stroke="#151515" stroke-width="0.12">21.8</text>
<path d="M243.38,350.70 L241.98,350.70 L241.98,358.30 L243.38,358.30" stroke="#9a9a9a" stroke-width="0.7" fill="none"/>
<path d="M261.02,350.70 L262.42,350.70 L262.42,358.30 L261.02,358.30" stroke="#9a9a9a" stroke-width="0.7" fill="none"/>
<line x1="271.90" y1="332.30" x2="271.90" y2="356.30" stroke="#777" stroke-width="0.8"/>
<line x1="285.90" y1="306.00" x2="285.90" y2="386.80" stroke="#777" stroke-width="0.8"/>
<line x1="319.60" y1="324.50" x2="319.60" y2="356.30" stroke="#777" stroke-width="0.8"/>
<line x1="363.30" y1="324.50" x2="363.30" y2="356.30" stroke="#777" stroke-width="0.8"/>
<line x1="406.60" y1="324.50" x2="406.60" y2="356.60" stroke="#777" stroke-width="0.8"/>
<line x1="268.20" y1="350.50" x2="319.60" y2="350.50" stroke="#777" stroke-width="0.8"/>
<path d="M272.10,350.50 L278.60,349.35 L278.60,351.65 Z" fill="#111"/>
<path d="M319.40,350.50 L312.90,351.65 L312.90,349.35 Z" fill="#111"/>
<line x1="351.40" y1="350.50" x2="374.50" y2="350.50" stroke="#777" stroke-width="0.8"/>
<path d="M363.10,350.50 L369.60,349.35 L369.60,351.65 Z" fill="#111"/>
<path d="M363.50,350.50 L357.00,351.65 L357.00,349.35 Z" fill="#111"/>
<line x1="406.60" y1="350.50" x2="417.90" y2="350.50" stroke="#777" stroke-width="0.8"/>
<path d="M406.80,350.50 L413.30,349.35 L413.30,351.65 Z" fill="#111"/>
<text transform="translate(338.30,349.03) scale(0.87,1)" font-size="8.7" text-anchor="middle" fill="#151515" stroke="#151515" stroke-width="0.12">.79</text>
<text transform="translate(338.30,358.23) scale(0.87,1)" font-size="8.7" text-anchor="middle" fill="#151515" stroke="#151515" stroke-width="0.12">20</text>
<path d="M333.69,351.30 L332.29,351.30 L332.29,358.90 L333.69,358.90" stroke="#9a9a9a" stroke-width="0.7" fill="none"/>
<path d="M342.91,351.30 L344.31,351.30 L344.31,358.90 L342.91,358.90" stroke="#9a9a9a" stroke-width="0.7" fill="none"/>
<text transform="translate(388.50,349.03) scale(0.87,1)" font-size="8.7" text-anchor="middle" fill="#151515" stroke="#151515" stroke-width="0.12">.79</text>
<text transform="translate(388.50,358.23) scale(0.87,1)" font-size="8.7" text-anchor="middle" fill="#151515" stroke="#151515" stroke-width="0.12">20</text>
<path d="M383.89,351.30 L382.49,351.30 L382.49,358.90 L383.89,358.90" stroke="#9a9a9a" stroke-width="0.7" fill="none"/>
<path d="M393.11,351.30 L394.51,351.30 L394.51,358.90 L393.11,358.90" stroke="#9a9a9a" stroke-width="0.7" fill="none"/>
<line x1="285.90" y1="380.80" x2="374.50" y2="380.80" stroke="#777" stroke-width="0.8"/>
<line x1="401.30" y1="380.80" x2="485.60" y2="380.80" stroke="#777" stroke-width="0.8"/>
<path d="M286.10,380.80 L292.60,379.65 L292.60,381.95 Z" fill="#111"/>
<path d="M485.40,380.80 L478.90,381.95 L478.90,379.65 Z" fill="#111"/>
<line x1="485.60" y1="305.00" x2="485.60" y2="386.30" stroke="#777" stroke-width="0.8"/>
<text transform="translate(387.70,379.53) scale(0.87,1)" font-size="8.7" text-anchor="middle" fill="#151515" stroke="#151515" stroke-width="0.12">3.62</text>
<text transform="translate(387.70,388.73) scale(0.87,1)" font-size="8.7" text-anchor="middle" fill="#151515" stroke="#151515" stroke-width="0.12">92</text>
<path d="M383.09,381.80 L381.69,381.80 L381.69,389.40 L383.09,389.40" stroke="#9a9a9a" stroke-width="0.7" fill="none"/>
<path d="M392.31,381.80 L393.71,381.80 L393.71,389.40 L392.31,389.40" stroke="#9a9a9a" stroke-width="0.7" fill="none"/>
<line x1="488.60" y1="198.50" x2="577.60" y2="198.50" stroke="#999" stroke-width="0.7"/>
<line x1="495.60" y1="228.60" x2="539.70" y2="228.60" stroke="#999" stroke-width="0.7"/>
<line x1="495.30" y1="272.20" x2="539.70" y2="272.20" stroke="#999" stroke-width="0.7"/>
<line x1="488.50" y1="302.00" x2="578.20" y2="302.00" stroke="#999" stroke-width="0.7"/>
<line x1="501.70" y1="330.00" x2="539.70" y2="330.00" stroke="#999" stroke-width="0.7"/>
<line x1="533.50" y1="228.60" x2="533.50" y2="238.50" stroke="#777" stroke-width="0.8"/>
<line x1="533.50" y1="259.00" x2="533.50" y2="303.50" stroke="#777" stroke-width="0.8"/>
<line x1="533.50" y1="323.00" x2="533.50" y2="330.00" stroke="#777" stroke-width="0.8"/>
<path d="M533.50,228.80 L534.65,235.30 L532.35,235.30 Z" fill="#111"/>
<path d="M533.50,272.00 L532.35,265.50 L534.65,265.50 Z" fill="#111"/>
<path d="M533.50,272.40 L534.65,278.90 L532.35,278.90 Z" fill="#111"/>
<path d="M533.50,329.80 L532.35,323.30 L534.65,323.30 Z" fill="#111"/>
<text transform="translate(533.40,247.73) scale(0.87,1)" font-size="8.7" text-anchor="middle" fill="#151515" stroke="#151515" stroke-width="0.12">.79</text>
<text transform="translate(533.40,256.13) scale(0.87,1)" font-size="8.7" text-anchor="middle" fill="#151515" stroke="#151515" stroke-width="0.12">19.9</text>
<path d="M524.58,249.20 L523.18,249.20 L523.18,256.80 L524.58,256.80" stroke="#9a9a9a" stroke-width="0.7" fill="none"/>
<path d="M542.22,249.20 L543.62,249.20 L543.62,256.80 L542.22,256.80" stroke="#9a9a9a" stroke-width="0.7" fill="none"/>
<text transform="translate(533.40,313.13) scale(0.87,1)" font-size="8.7" text-anchor="middle" fill="#151515" stroke="#151515" stroke-width="0.12">1.05</text>
<text transform="translate(533.40,321.43) scale(0.87,1)" font-size="8.7" text-anchor="middle" fill="#151515" stroke="#151515" stroke-width="0.12">26.8</text>
<path d="M524.58,314.50 L523.18,314.50 L523.18,322.10 L524.58,322.10" stroke="#9a9a9a" stroke-width="0.7" fill="none"/>
<path d="M542.22,314.50 L543.62,314.50 L543.62,322.10 L542.22,322.10" stroke="#9a9a9a" stroke-width="0.7" fill="none"/>
<line x1="572.00" y1="198.50" x2="572.00" y2="242.00" stroke="#777" stroke-width="0.8"/>
<line x1="572.00" y1="262.00" x2="572.00" y2="302.00" stroke="#777" stroke-width="0.8"/>
<path d="M572.00,198.70 L573.15,205.20 L570.85,205.20 Z" fill="#111"/>
<path d="M572.00,301.80 L570.85,295.30 L573.15,295.30 Z" fill="#111"/>
<text transform="translate(571.90,251.13) scale(0.87,1)" font-size="8.7" text-anchor="middle" fill="#151515" stroke="#151515" stroke-width="0.12">1.87</text>
<text transform="translate(571.90,259.43) scale(0.87,1)" font-size="8.7" text-anchor="middle" fill="#151515" stroke="#151515" stroke-width="0.12">47.6</text>
<path d="M563.08,252.50 L561.68,252.50 L561.68,260.10 L563.08,260.10" stroke="#9a9a9a" stroke-width="0.7" fill="none"/>
<path d="M580.72,252.50 L582.12,252.50 L582.12,260.10 L580.72,260.10" stroke="#9a9a9a" stroke-width="0.7" fill="none"/>
<text x="271" y="413.6" font-size="9.37" fill="#222">Tolerances: ± 0.02 in / 0.5 mm.&#160; All dimensions are in: inches [millimeters]</text>
<path d="M610.2,119.5 L646.0,99.0 L833.3,207.7 L797.5,227.6 Z" stroke="#333" stroke-width="0.9" fill="none" stroke-linejoin="round" stroke-linecap="round"/>
<path d="M797.5,227.6 L797.5,241.5" stroke="#333" stroke-width="0.9" fill="none" stroke-linejoin="round" stroke-linecap="round"/>
<path d="M610.2,119.5 L610.2,133.2" stroke="#333" stroke-width="0.9" fill="none" stroke-linejoin="round" stroke-linecap="round"/>
<path d="M610.2,133.2 L617.7,137.8 C623,141 629,146 631,152 C632.5,157 632.3,162 631,165.5 C628,167.8 624,167.8 621.6,165.6 L609.7,159.4" stroke="#333" stroke-width="0.9" fill="none" stroke-linejoin="round" stroke-linecap="round"/>
<path d="M609.7,159.4 L629.2,148.6" stroke="#333" stroke-width="0.9" fill="none" stroke-linejoin="round" stroke-linecap="round"/>
<path d="M609.7,159.4 L609.7,232.0" stroke="#333" stroke-width="0.9" fill="none" stroke-linejoin="round" stroke-linecap="round"/>
<path d="M609.7,232.0 L619,236.6 C624,239.5 628,243 630,247 C632,251 633,255 632.9,258.7 M632.3,258.1 L621.3,264.5 C623.5,265.9 626.5,266.2 628.6,264.8 M621.3,264.5 L609.7,257.7" stroke="#333" stroke-width="0.9" fill="none" stroke-linejoin="round" stroke-linecap="round"/>
<path d="M609.7,257.7 L628.8,247.4" stroke="#333" stroke-width="0.9" fill="none" stroke-linejoin="round" stroke-linecap="round"/>
<path d="M609.7,257.7 L609.7,271.6 L797.3,379.6 L833.4,359.0 M797.4,366.0 L797.3,379.6" stroke="#333" stroke-width="0.9" fill="none" stroke-linejoin="round" stroke-linecap="round"/>
<path d="M797.5,241.50 L833.4,221.30" stroke="#333" stroke-width="0.9" fill="none" stroke-linejoin="round" stroke-linecap="round"/>
<path d="M822.6,227.60 L827.4,230.40 L833.4,227.60 M827.4,224.40 L827.4,230.40" stroke="#333" stroke-width="0.8" fill="none" stroke-linejoin="round" stroke-linecap="round"/>
<path d="M813.5,232.80 L817.0,236.30 L827.4,242.60 L833.4,239.40 L819.0,229.70" stroke="#333" stroke-width="0.8" fill="none" stroke-linejoin="round" stroke-linecap="round"/>
<path d="M817.0,236.30 L821.4,233.80 M827.4,242.60 L827.4,250.00" stroke="#333" stroke-width="0.8" fill="none" stroke-linejoin="round" stroke-linecap="round"/>
<path d="M797.5,241.50 L785.5,234.50 C779.5,231.00 775.3,235.00 775.3,241.00 C775.3,250.00 780,257.50 787.2,260.60 L797.5,267.60 L833.4,248.60" stroke="#333" stroke-width="0.9" fill="none" stroke-linejoin="round" stroke-linecap="round"/>
<path d="M787.2,260.60 L816.5,243.50" stroke="#333" stroke-width="0.9" fill="none" stroke-linejoin="round" stroke-linecap="round"/>
<path d="M810.1,235.30 C811.2,238.80 813.2,241.80 816.5,243.50 L827.4,249.90" stroke="#333" stroke-width="0.9" fill="none" stroke-linejoin="round" stroke-linecap="round"/>
<path d="M797.5,339.90 L833.4,319.70" stroke="#333" stroke-width="0.9" fill="none" stroke-linejoin="round" stroke-linecap="round"/>
<path d="M822.6,326.00 L827.4,328.80 L833.4,326.00 M827.4,322.80 L827.4,328.80" stroke="#333" stroke-width="0.8" fill="none" stroke-linejoin="round" stroke-linecap="round"/>
<path d="M813.5,331.20 L817.0,334.70 L827.4,341.00 L833.4,337.80 L819.0,328.10" stroke="#333" stroke-width="0.8" fill="none" stroke-linejoin="round" stroke-linecap="round"/>
<path d="M817.0,334.70 L821.4,332.20 M827.4,341.00 L827.4,348.40" stroke="#333" stroke-width="0.8" fill="none" stroke-linejoin="round" stroke-linecap="round"/>
<path d="M797.5,339.90 L785.5,332.90 C779.5,329.40 775.3,333.40 775.3,339.40 C775.3,348.40 780,355.90 787.2,359.00 L797.5,366.00 L833.4,347.00" stroke="#333" stroke-width="0.9" fill="none" stroke-linejoin="round" stroke-linecap="round"/>
<path d="M787.2,359.00 L816.5,341.90" stroke="#333" stroke-width="0.9" fill="none" stroke-linejoin="round" stroke-linecap="round"/>
<path d="M810.1,333.70 C811.2,337.20 813.2,340.20 816.5,341.90 L827.4,348.30" stroke="#333" stroke-width="0.9" fill="none" stroke-linejoin="round" stroke-linecap="round"/>
<path d="M833.4,207.7 L833.4,227.6 M833.4,239.4 L833.4,326.0 M833.4,337.8 L833.4,359.0" stroke="#333" stroke-width="0.9" fill="none" stroke-linejoin="round" stroke-linecap="round"/>
<path d="M797.5,267.6 L797.5,339.9" stroke="#333" stroke-width="0.9" fill="none" stroke-linejoin="round" stroke-linecap="round"/>
<path d="M632.20,147.30 L652.70,157.60 L650.10,178.10 L632.20,168.80 Z" stroke="none" stroke-width="0" fill="#fff" stroke-linejoin="round" stroke-linecap="round"/>
<path d="M632.20,168.80 L632.20,147.30" stroke="#333" stroke-width="0.8" fill="none" stroke-linejoin="round" stroke-linecap="round"/>
<path d="M634.10,146.50 L652.70,156.80" stroke="#333" stroke-width="0.8" fill="none" stroke-linejoin="round" stroke-linecap="round"/>
<path d="M632.90,148.60 L652.10,159.00" stroke="#666" stroke-width="0.7" fill="none" stroke-linejoin="round" stroke-linecap="round"/>
<path d="M633.60,147.60 L652.40,157.90" stroke="#bbb" stroke-width="1.0" fill="none" stroke-linejoin="round" stroke-linecap="round"/>
<circle cx="634.10" cy="146.20" r="1.3" fill="#fff" stroke="#333" stroke-width="0.7"/>
<path d="M643.40,174.80 L650.10,178.10" stroke="#333" stroke-width="0.8" fill="none" stroke-linejoin="round" stroke-linecap="round"/>
<circle r="7.9" transform="matrix(0.95,0.25,0,1,648.40,158.00)" fill="#fff" stroke="#333" stroke-width="0.8" vector-effect="non-scaling-stroke"/>
<circle r="10.0" transform="matrix(0.95,0.25,0,1,640.10,165.40)" fill="#fff" stroke="#333" stroke-width="0.9" vector-effect="non-scaling-stroke"/>
<circle r="8.6" transform="matrix(0.95,0.25,0,1,638.80,166.10)" fill="none" stroke="#555" stroke-width="0.6" vector-effect="non-scaling-stroke"/>
<circle r="5.6" transform="matrix(0.95,0.25,0,1,637.10,167.00)" fill="none" stroke="#333" stroke-width="0.8" vector-effect="non-scaling-stroke"/>
<line x1="632.90" y1="165.00" x2="639.50" y2="167.80" stroke="#222" stroke-width="1.1"/>
<line x1="634.50" y1="169.20" x2="637.50" y2="163.00" stroke="#222" stroke-width="1.1"/>
<line x1="631.10" y1="163.40" x2="642.60" y2="169.00" stroke="#888" stroke-width="0.5"/>
<path d="M654.30,163.50 L669.30,155.50 L667.80,193.60 L654.30,201.40 Z" fill="#fff"/>
<path d="M651.10,160.50 L667.10,152.10 L670.10,156.30 L654.30,164.70 Z" fill="#fff"/>
<path d="M651.70,161.30 L667.10,153.30" stroke="#999" stroke-width="1.5" fill="none" stroke-linejoin="round" stroke-linecap="round"/>
<path d="M650.10,162.70 Q650.10,160.70 651.60,160.00 L667.30,151.90" stroke="#333" stroke-width="0.9" fill="none" stroke-linejoin="round" stroke-linecap="round"/>
<path d="M654.30,164.70 L670.10,156.10" stroke="#333" stroke-width="0.8" fill="none" stroke-linejoin="round" stroke-linecap="round"/>
<path d="M650.50,162.10 L654.30,164.70" stroke="#333" stroke-width="0.8" fill="none" stroke-linejoin="round" stroke-linecap="round"/>
<rect x="650.10" y="162.00" width="4.20" height="38.90" fill="#fff"/>
<path d="M650.10,162.70 L650.10,200.90 L654.30,201.40" stroke="#333" stroke-width="1.0" fill="none" stroke-linejoin="round" stroke-linecap="round"/>
<line x1="654.30" y1="164.70" x2="654.30" y2="201.40" stroke="#999" stroke-width="0.8"/>
<line x1="651.30" y1="163.50" x2="651.30" y2="200.40" stroke="#bbb" stroke-width="0.6"/>
<path d="M654.30,201.40 L667.80,193.60" stroke="#333" stroke-width="0.9" fill="none" stroke-linejoin="round" stroke-linecap="round"/>
<path d="M668.00,167.90 L688.50,178.20 L685.90,198.70 L668.00,189.40 Z" stroke="none" stroke-width="0" fill="#fff" stroke-linejoin="round" stroke-linecap="round"/>
<path d="M668.00,189.40 L668.00,167.90" stroke="#333" stroke-width="0.8" fill="none" stroke-linejoin="round" stroke-linecap="round"/>
<path d="M669.90,167.10 L688.50,177.40" stroke="#333" stroke-width="0.8" fill="none" stroke-linejoin="round" stroke-linecap="round"/>
<path d="M668.70,169.20 L687.90,179.60" stroke="#666" stroke-width="0.7" fill="none" stroke-linejoin="round" stroke-linecap="round"/>
<path d="M669.40,168.20 L688.20,178.50" stroke="#bbb" stroke-width="1.0" fill="none" stroke-linejoin="round" stroke-linecap="round"/>
<circle cx="669.90" cy="166.80" r="1.3" fill="#fff" stroke="#333" stroke-width="0.7"/>
<path d="M679.20,195.40 L685.90,198.70" stroke="#333" stroke-width="0.8" fill="none" stroke-linejoin="round" stroke-linecap="round"/>
<circle r="7.9" transform="matrix(0.95,0.25,0,1,684.20,178.60)" fill="#fff" stroke="#333" stroke-width="0.8" vector-effect="non-scaling-stroke"/>
<circle r="10.0" transform="matrix(0.95,0.25,0,1,675.90,186.00)" fill="#fff" stroke="#333" stroke-width="0.9" vector-effect="non-scaling-stroke"/>
<circle r="8.6" transform="matrix(0.95,0.25,0,1,674.60,186.70)" fill="none" stroke="#555" stroke-width="0.6" vector-effect="non-scaling-stroke"/>
<circle r="5.6" transform="matrix(0.95,0.25,0,1,672.90,187.60)" fill="none" stroke="#333" stroke-width="0.8" vector-effect="non-scaling-stroke"/>
<line x1="668.70" y1="185.60" x2="675.30" y2="188.40" stroke="#222" stroke-width="1.1"/>
<line x1="670.30" y1="189.80" x2="673.30" y2="183.60" stroke="#222" stroke-width="1.1"/>
<line x1="666.90" y1="184.00" x2="678.40" y2="189.60" stroke="#888" stroke-width="0.5"/>
<path d="M690.10,184.10 L705.10,176.10 L703.60,214.20 L690.10,222.00 Z" fill="#fff"/>
<path d="M686.90,181.10 L702.90,172.70 L705.90,176.90 L690.10,185.30 Z" fill="#fff"/>
<path d="M687.50,181.90 L702.90,173.90" stroke="#999" stroke-width="1.5" fill="none" stroke-linejoin="round" stroke-linecap="round"/>
<path d="M685.90,183.30 Q685.90,181.30 687.40,180.60 L703.10,172.50" stroke="#333" stroke-width="0.9" fill="none" stroke-linejoin="round" stroke-linecap="round"/>
<path d="M690.10,185.30 L705.90,176.70" stroke="#333" stroke-width="0.8" fill="none" stroke-linejoin="round" stroke-linecap="round"/>
<path d="M686.30,182.70 L690.10,185.30" stroke="#333" stroke-width="0.8" fill="none" stroke-linejoin="round" stroke-linecap="round"/>
<rect x="685.90" y="182.60" width="4.20" height="38.90" fill="#fff"/>
<path d="M685.90,183.30 L685.90,221.50 L690.10,222.00" stroke="#333" stroke-width="1.0" fill="none" stroke-linejoin="round" stroke-linecap="round"/>
<line x1="690.10" y1="185.30" x2="690.10" y2="222.00" stroke="#999" stroke-width="0.8"/>
<line x1="687.10" y1="184.10" x2="687.10" y2="221.00" stroke="#bbb" stroke-width="0.6"/>
<path d="M690.10,222.00 L703.60,214.20" stroke="#333" stroke-width="0.9" fill="none" stroke-linejoin="round" stroke-linecap="round"/>
<path d="M703.80,188.50 L724.30,198.80 L721.70,219.30 L703.80,210.00 Z" stroke="none" stroke-width="0" fill="#fff" stroke-linejoin="round" stroke-linecap="round"/>
<path d="M703.80,210.00 L703.80,188.50" stroke="#333" stroke-width="0.8" fill="none" stroke-linejoin="round" stroke-linecap="round"/>
<path d="M705.70,187.70 L724.30,198.00" stroke="#333" stroke-width="0.8" fill="none" stroke-linejoin="round" stroke-linecap="round"/>
<path d="M704.50,189.80 L723.70,200.20" stroke="#666" stroke-width="0.7" fill="none" stroke-linejoin="round" stroke-linecap="round"/>
<path d="M705.20,188.80 L724.00,199.10" stroke="#bbb" stroke-width="1.0" fill="none" stroke-linejoin="round" stroke-linecap="round"/>
<circle cx="705.70" cy="187.40" r="1.3" fill="#fff" stroke="#333" stroke-width="0.7"/>
<path d="M724.30,198.80 L729.00,196.60 L729.00,221.40 L726.10,223.20 L726.10,199.00" stroke="#333" stroke-width="0.8" fill="#fff" stroke-linejoin="round" stroke-linecap="round"/>
<path d="M715.00,216.00 L726.10,223.20" stroke="#333" stroke-width="0.8" fill="none" stroke-linejoin="round" stroke-linecap="round"/>
<circle r="7.9" transform="matrix(0.95,0.25,0,1,720.00,199.20)" fill="#fff" stroke="#333" stroke-width="0.8" vector-effect="non-scaling-stroke"/>
<circle r="10.0" transform="matrix(0.95,0.25,0,1,711.70,206.60)" fill="#fff" stroke="#333" stroke-width="0.9" vector-effect="non-scaling-stroke"/>
<circle r="8.6" transform="matrix(0.95,0.25,0,1,710.40,207.30)" fill="none" stroke="#555" stroke-width="0.6" vector-effect="non-scaling-stroke"/>
<circle r="5.6" transform="matrix(0.95,0.25,0,1,708.70,208.20)" fill="none" stroke="#333" stroke-width="0.8" vector-effect="non-scaling-stroke"/>
<line x1="704.50" y1="206.20" x2="711.10" y2="209.00" stroke="#222" stroke-width="1.1"/>
<line x1="706.10" y1="210.40" x2="709.10" y2="204.20" stroke="#222" stroke-width="1.1"/>
<line x1="702.70" y1="204.60" x2="714.20" y2="210.20" stroke="#888" stroke-width="0.5"/>
<path d="M632.00,264.70 L652.50,275.00 L649.90,295.50 L632.00,286.20 Z" stroke="none" stroke-width="0" fill="#fff" stroke-linejoin="round" stroke-linecap="round"/>
<path d="M632.00,286.20 L632.00,264.70" stroke="#333" stroke-width="0.8" fill="none" stroke-linejoin="round" stroke-linecap="round"/>
<path d="M633.90,263.90 L652.50,274.20" stroke="#333" stroke-width="0.8" fill="none" stroke-linejoin="round" stroke-linecap="round"/>
<path d="M632.70,266.00 L651.90,276.40" stroke="#666" stroke-width="0.7" fill="none" stroke-linejoin="round" stroke-linecap="round"/>
<path d="M633.40,265.00 L652.20,275.30" stroke="#bbb" stroke-width="1.0" fill="none" stroke-linejoin="round" stroke-linecap="round"/>
<circle cx="633.90" cy="263.60" r="1.3" fill="#fff" stroke="#333" stroke-width="0.7"/>
<path d="M643.20,292.20 L649.90,295.50" stroke="#333" stroke-width="0.8" fill="none" stroke-linejoin="round" stroke-linecap="round"/>
<circle r="7.9" transform="matrix(0.95,0.25,0,1,648.20,275.40)" fill="#fff" stroke="#333" stroke-width="0.8" vector-effect="non-scaling-stroke"/>
<circle r="10.0" transform="matrix(0.95,0.25,0,1,639.90,282.80)" fill="#fff" stroke="#333" stroke-width="0.9" vector-effect="non-scaling-stroke"/>
<circle r="8.6" transform="matrix(0.95,0.25,0,1,638.60,283.50)" fill="none" stroke="#555" stroke-width="0.6" vector-effect="non-scaling-stroke"/>
<circle r="5.6" transform="matrix(0.95,0.25,0,1,636.90,284.40)" fill="none" stroke="#333" stroke-width="0.8" vector-effect="non-scaling-stroke"/>
<line x1="632.70" y1="282.40" x2="639.30" y2="285.20" stroke="#222" stroke-width="1.1"/>
<line x1="634.30" y1="286.60" x2="637.30" y2="280.40" stroke="#222" stroke-width="1.1"/>
<line x1="630.90" y1="280.80" x2="642.40" y2="286.40" stroke="#888" stroke-width="0.5"/>
<path d="M654.10,275.80 L669.10,267.80 L667.60,305.10 L654.10,312.90 Z" fill="#fff"/>
<path d="M650.90,272.80 L666.90,264.40 L669.90,268.60 L654.10,277.00 Z" fill="#fff"/>
<path d="M651.50,273.60 L666.90,265.60" stroke="#999" stroke-width="1.5" fill="none" stroke-linejoin="round" stroke-linecap="round"/>
<path d="M649.90,275.00 Q649.90,273.00 651.40,272.30 L667.10,264.20" stroke="#333" stroke-width="0.9" fill="none" stroke-linejoin="round" stroke-linecap="round"/>
<path d="M654.10,277.00 L669.90,268.40" stroke="#333" stroke-width="0.8" fill="none" stroke-linejoin="round" stroke-linecap="round"/>
<path d="M650.30,274.40 L654.10,277.00" stroke="#333" stroke-width="0.8" fill="none" stroke-linejoin="round" stroke-linecap="round"/>
<rect x="649.90" y="274.30" width="4.20" height="38.10" fill="#fff"/>
<path d="M649.90,275.00 L649.90,312.40 L654.10,312.90" stroke="#333" stroke-width="1.0" fill="none" stroke-linejoin="round" stroke-linecap="round"/>
<line x1="654.10" y1="277.00" x2="654.10" y2="312.90" stroke="#999" stroke-width="0.8"/>
<line x1="651.10" y1="275.80" x2="651.10" y2="311.90" stroke="#bbb" stroke-width="0.6"/>
<path d="M654.10,312.90 L667.60,305.10" stroke="#333" stroke-width="0.9" fill="none" stroke-linejoin="round" stroke-linecap="round"/>
<path d="M667.80,285.30 L688.30,295.60 L685.70,316.10 L667.80,306.80 Z" stroke="none" stroke-width="0" fill="#fff" stroke-linejoin="round" stroke-linecap="round"/>
<path d="M667.80,306.80 L667.80,285.30" stroke="#333" stroke-width="0.8" fill="none" stroke-linejoin="round" stroke-linecap="round"/>
<path d="M669.70,284.50 L688.30,294.80" stroke="#333" stroke-width="0.8" fill="none" stroke-linejoin="round" stroke-linecap="round"/>
<path d="M668.50,286.60 L687.70,297.00" stroke="#666" stroke-width="0.7" fill="none" stroke-linejoin="round" stroke-linecap="round"/>
<path d="M669.20,285.60 L688.00,295.90" stroke="#bbb" stroke-width="1.0" fill="none" stroke-linejoin="round" stroke-linecap="round"/>
<circle cx="669.70" cy="284.20" r="1.3" fill="#fff" stroke="#333" stroke-width="0.7"/>
<path d="M679.00,312.80 L685.70,316.10" stroke="#333" stroke-width="0.8" fill="none" stroke-linejoin="round" stroke-linecap="round"/>
<circle r="7.9" transform="matrix(0.95,0.25,0,1,684.00,296.00)" fill="#fff" stroke="#333" stroke-width="0.8" vector-effect="non-scaling-stroke"/>
<circle r="10.0" transform="matrix(0.95,0.25,0,1,675.70,303.40)" fill="#fff" stroke="#333" stroke-width="0.9" vector-effect="non-scaling-stroke"/>
<circle r="8.6" transform="matrix(0.95,0.25,0,1,674.40,304.10)" fill="none" stroke="#555" stroke-width="0.6" vector-effect="non-scaling-stroke"/>
<circle r="5.6" transform="matrix(0.95,0.25,0,1,672.70,305.00)" fill="none" stroke="#333" stroke-width="0.8" vector-effect="non-scaling-stroke"/>
<line x1="668.50" y1="303.00" x2="675.10" y2="305.80" stroke="#222" stroke-width="1.1"/>
<line x1="670.10" y1="307.20" x2="673.10" y2="301.00" stroke="#222" stroke-width="1.1"/>
<line x1="666.70" y1="301.40" x2="678.20" y2="307.00" stroke="#888" stroke-width="0.5"/>
<path d="M689.90,296.40 L704.90,288.40 L703.40,325.70 L689.90,333.50 Z" fill="#fff"/>
<path d="M686.70,293.40 L702.70,285.00 L705.70,289.20 L689.90,297.60 Z" fill="#fff"/>
<path d="M687.30,294.20 L702.70,286.20" stroke="#999" stroke-width="1.5" fill="none" stroke-linejoin="round" stroke-linecap="round"/>
<path d="M685.70,295.60 Q685.70,293.60 687.20,292.90 L702.90,284.80" stroke="#333" stroke-width="0.9" fill="none" stroke-linejoin="round" stroke-linecap="round"/>
<path d="M689.90,297.60 L705.70,289.00" stroke="#333" stroke-width="0.8" fill="none" stroke-linejoin="round" stroke-linecap="round"/>
<path d="M686.10,295.00 L689.90,297.60" stroke="#333" stroke-width="0.8" fill="none" stroke-linejoin="round" stroke-linecap="round"/>
<rect x="685.70" y="294.90" width="4.20" height="38.10" fill="#fff"/>
<path d="M685.70,295.60 L685.70,333.00 L689.90,333.50" stroke="#333" stroke-width="1.0" fill="none" stroke-linejoin="round" stroke-linecap="round"/>
<line x1="689.90" y1="297.60" x2="689.90" y2="333.50" stroke="#999" stroke-width="0.8"/>
<line x1="686.90" y1="296.40" x2="686.90" y2="332.50" stroke="#bbb" stroke-width="0.6"/>
<path d="M689.90,333.50 L703.40,325.70" stroke="#333" stroke-width="0.9" fill="none" stroke-linejoin="round" stroke-linecap="round"/>
<path d="M703.60,305.90 L724.10,316.20 L721.50,336.70 L703.60,327.40 Z" stroke="none" stroke-width="0" fill="#fff" stroke-linejoin="round" stroke-linecap="round"/>
<path d="M703.60,327.40 L703.60,305.90" stroke="#333" stroke-width="0.8" fill="none" stroke-linejoin="round" stroke-linecap="round"/>
<path d="M705.50,305.10 L724.10,315.40" stroke="#333" stroke-width="0.8" fill="none" stroke-linejoin="round" stroke-linecap="round"/>
<path d="M704.30,307.20 L723.50,317.60" stroke="#666" stroke-width="0.7" fill="none" stroke-linejoin="round" stroke-linecap="round"/>
<path d="M705.00,306.20 L723.80,316.50" stroke="#bbb" stroke-width="1.0" fill="none" stroke-linejoin="round" stroke-linecap="round"/>
<circle cx="705.50" cy="304.80" r="1.3" fill="#fff" stroke="#333" stroke-width="0.7"/>
<path d="M724.10,316.20 L728.80,314.00 L728.80,338.80 L725.90,340.60 L725.90,316.40" stroke="#333" stroke-width="0.8" fill="#fff" stroke-linejoin="round" stroke-linecap="round"/>
<path d="M714.80,333.40 L725.90,340.60" stroke="#333" stroke-width="0.8" fill="none" stroke-linejoin="round" stroke-linecap="round"/>
<circle r="7.9" transform="matrix(0.95,0.25,0,1,719.80,316.60)" fill="#fff" stroke="#333" stroke-width="0.8" vector-effect="non-scaling-stroke"/>
<circle r="10.0" transform="matrix(0.95,0.25,0,1,711.50,324.00)" fill="#fff" stroke="#333" stroke-width="0.9" vector-effect="non-scaling-stroke"/>
<circle r="8.6" transform="matrix(0.95,0.25,0,1,710.20,324.70)" fill="none" stroke="#555" stroke-width="0.6" vector-effect="non-scaling-stroke"/>
<circle r="5.6" transform="matrix(0.95,0.25,0,1,708.50,325.60)" fill="none" stroke="#333" stroke-width="0.8" vector-effect="non-scaling-stroke"/>
<line x1="704.30" y1="323.60" x2="710.90" y2="326.40" stroke="#222" stroke-width="1.1"/>
<line x1="705.90" y1="327.80" x2="708.90" y2="321.60" stroke="#222" stroke-width="1.1"/>
<line x1="702.50" y1="322.00" x2="714.00" y2="327.60" stroke="#888" stroke-width="0.5"/>
<path d="M767.3,265.5 L787.6,275.3 L787.6,290.6 L767.1,282.9 Z" stroke="none" stroke-width="0" fill="#fff" stroke-linejoin="round" stroke-linecap="round"/>
<path d="M767.1,283.5 L767.1,266 Q767.1,264.3 768.6,264.5 L787.6,273.8 L787.6,289.8" stroke="#333" stroke-width="0.8" fill="none" stroke-linejoin="round" stroke-linecap="round"/>
<path d="M767.6,266.6 L787.4,276.2" stroke="#bbb" stroke-width="1.6" fill="none" stroke-linejoin="round" stroke-linecap="round"/>
<path d="M767.3,267.8 L787.6,277.3" stroke="#333" stroke-width="0.7" fill="none" stroke-linejoin="round" stroke-linecap="round"/>
<path d="M785.8,276.2 L785.8,290.0" stroke="#999" stroke-width="0.6" fill="none" stroke-linejoin="round" stroke-linecap="round"/>
<path d="M777.5,287.5 L787.6,290.6 L788.6,289.6" stroke="#333" stroke-width="0.8" fill="none" stroke-linejoin="round" stroke-linecap="round"/>
<circle r="7.4" transform="matrix(0.95,0.25,0,1,776.30,278.60)" fill="#fff" stroke="#333" stroke-width="0.8" vector-effect="non-scaling-stroke"/>
<circle r="7.4" transform="matrix(0.95,0.25,0,1,774.50,279.90)" fill="#fff" stroke="#333" stroke-width="0.8" vector-effect="non-scaling-stroke"/>
<circle r="5.3" transform="matrix(0.95,0.25,0,1,773.60,280.50)" fill="none" stroke="#555" stroke-width="0.6" vector-effect="non-scaling-stroke"/>
<line x1="770.00" y1="280.20" x2="775.40" y2="282.50" stroke="#333" stroke-width="0.9"/>
<line x1="771.40" y1="283.60" x2="773.70" y2="278.50" stroke="#333" stroke-width="0.9"/>
<path d="M768.5,285.5 C766,286.5 765.5,290.5 770.5,292" stroke="#555" stroke-width="0.6" fill="none" stroke-linejoin="round" stroke-linecap="round"/>
<path d="M767.3,306.5 L787.6,316.3 L787.6,331.6 L767.1,323.9 Z" stroke="none" stroke-width="0" fill="#fff" stroke-linejoin="round" stroke-linecap="round"/>
<path d="M767.1,324.5 L767.1,307 Q767.1,305.3 768.6,305.5 L787.6,314.8 L787.6,330.8" stroke="#333" stroke-width="0.8" fill="none" stroke-linejoin="round" stroke-linecap="round"/>
<path d="M767.6,307.6 L787.4,317.2" stroke="#bbb" stroke-width="1.6" fill="none" stroke-linejoin="round" stroke-linecap="round"/>
<path d="M767.3,308.8 L787.6,318.3" stroke="#333" stroke-width="0.7" fill="none" stroke-linejoin="round" stroke-linecap="round"/>
<path d="M785.8,317.2 L785.8,331.0" stroke="#999" stroke-width="0.6" fill="none" stroke-linejoin="round" stroke-linecap="round"/>
<path d="M777.5,328.5 L787.6,331.6 L788.6,330.6" stroke="#333" stroke-width="0.8" fill="none" stroke-linejoin="round" stroke-linecap="round"/>
<circle r="7.4" transform="matrix(0.95,0.25,0,1,776.30,319.60)" fill="#fff" stroke="#333" stroke-width="0.8" vector-effect="non-scaling-stroke"/>
<circle r="7.4" transform="matrix(0.95,0.25,0,1,774.50,320.90)" fill="#fff" stroke="#333" stroke-width="0.8" vector-effect="non-scaling-stroke"/>
<circle r="5.3" transform="matrix(0.95,0.25,0,1,773.60,321.50)" fill="none" stroke="#555" stroke-width="0.6" vector-effect="non-scaling-stroke"/>
<line x1="770.00" y1="321.20" x2="775.40" y2="323.50" stroke="#333" stroke-width="0.9"/>
<line x1="771.40" y1="324.60" x2="773.70" y2="319.50" stroke="#333" stroke-width="0.9"/>
<path d="M768.5,326.5 C766,327.5 765.5,331.5 770.5,333" stroke="#555" stroke-width="0.6" fill="none" stroke-linejoin="round" stroke-linecap="round"/>
</svg></body></html>
